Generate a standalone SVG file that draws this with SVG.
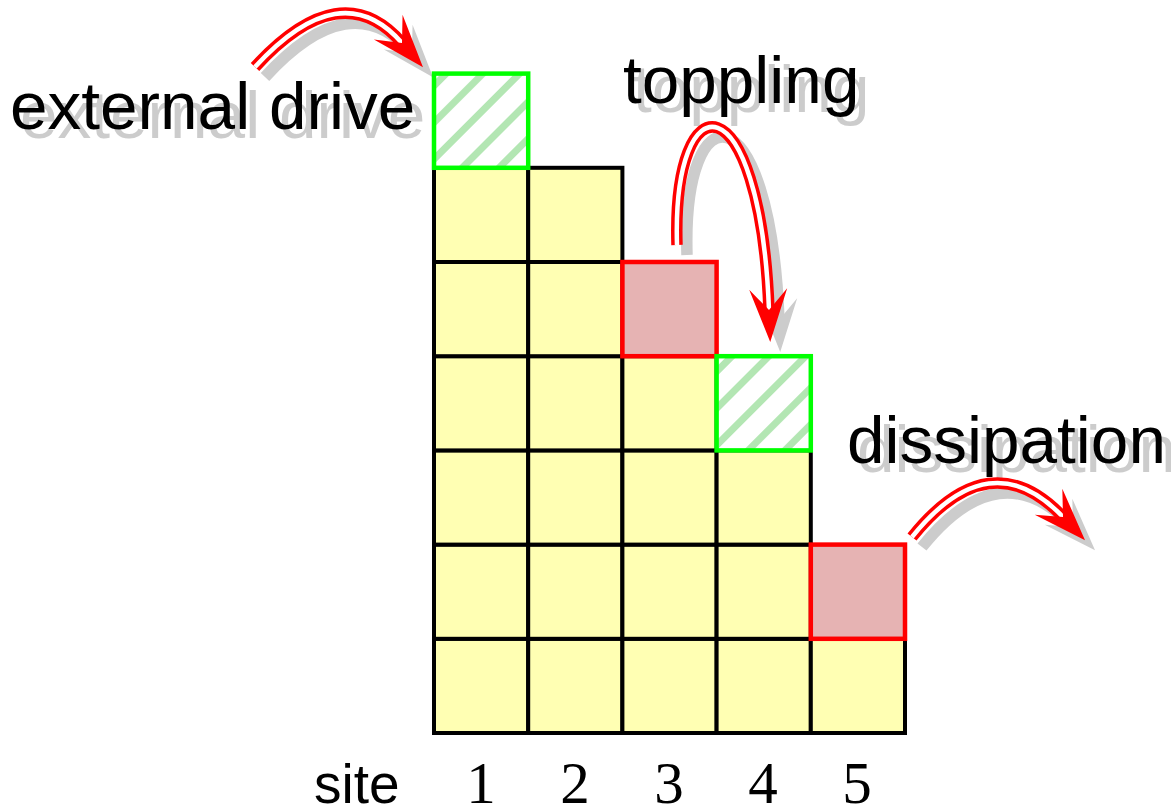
<svg xmlns="http://www.w3.org/2000/svg" width="1171" height="809" viewBox="0 0 1171 809">
<defs>
<style>
.cell{fill:#ffffb3;stroke:#000;stroke-width:4}
.top{fill:#e6b3b3;stroke:#ff0000;stroke-width:4.5}
.drv{stroke:#00ff00;stroke-width:4.5}
.lbl{font-family:"Liberation Sans",Arial,sans-serif;font-size:67.5px}
.site{font-family:"Liberation Sans",Arial,sans-serif;font-size:55px}
.shd{fill:#cccccc}
.ink{fill:#000}
.num{font-family:"Liberation Serif","Times New Roman",serif;font-size:59px;text-anchor:middle;fill:#000}
.outer{fill:none;stroke:#ff0000;stroke-width:11.5}
.inner{fill:none;stroke:#ffffff;stroke-width:4.5}
.sh{fill:none;stroke:#cccccc;stroke-width:11.5}
.hd{fill:#ff0000}
.hds{fill:#cccccc}
</style>
<pattern id="hA" patternUnits="userSpaceOnUse" width="26" height="26" patternTransform="rotate(45)"><rect width="26" height="26" fill="#fff"/><rect width="7" height="26" fill="#b3e6b3"/></pattern>
<pattern id="hB" patternUnits="userSpaceOnUse" width="26" height="26" patternTransform="translate(17,0) rotate(45)"><rect width="26" height="26" fill="#fff"/><rect width="7" height="26" fill="#b3e6b3"/></pattern>
<path id="head" d="M32,0 L-21,-19 L0,0 L-21,19 Z"/>
</defs>
<rect width="1171" height="809" fill="#fff"/>

<g id="labels-shadow">
<text class="lbl shd" x="20" y="138">external drive</text>
<text class="lbl shd" x="633" y="112">toppling</text>
<text class="lbl shd" x="857" y="472">dissipation</text>
</g>

<g id="grid">
<g id="c1r0"><rect class="cell" x="434" y="638.8" width="94.2" height="94.2"/></g>
<g id="c1r1"><rect class="cell" x="434" y="544.6" width="94.2" height="94.2"/></g>
<g id="c1r2"><rect class="cell" x="434" y="450.4" width="94.2" height="94.2"/></g>
<g id="c1r3"><rect class="cell" x="434" y="356.2" width="94.2" height="94.2"/></g>
<g id="c1r4"><rect class="cell" x="434" y="262" width="94.2" height="94.2"/></g>
<g id="c1r5"><rect class="cell" x="434" y="167.8" width="94.2" height="94.2"/></g>
<g id="c2r0"><rect class="cell" x="528.2" y="638.8" width="94.2" height="94.2"/></g>
<g id="c2r1"><rect class="cell" x="528.2" y="544.6" width="94.2" height="94.2"/></g>
<g id="c2r2"><rect class="cell" x="528.2" y="450.4" width="94.2" height="94.2"/></g>
<g id="c2r3"><rect class="cell" x="528.2" y="356.2" width="94.2" height="94.2"/></g>
<g id="c2r4"><rect class="cell" x="528.2" y="262" width="94.2" height="94.2"/></g>
<g id="c2r5"><rect class="cell" x="528.2" y="167.8" width="94.2" height="94.2"/></g>
<g id="c3r0"><rect class="cell" x="622.4" y="638.8" width="94.2" height="94.2"/></g>
<g id="c3r1"><rect class="cell" x="622.4" y="544.6" width="94.2" height="94.2"/></g>
<g id="c3r2"><rect class="cell" x="622.4" y="450.4" width="94.2" height="94.2"/></g>
<g id="c3r3"><rect class="cell" x="622.4" y="356.2" width="94.2" height="94.2"/></g>
<g id="c4r0"><rect class="cell" x="716.6" y="638.8" width="94.2" height="94.2"/></g>
<g id="c4r1"><rect class="cell" x="716.6" y="544.6" width="94.2" height="94.2"/></g>
<g id="c4r2"><rect class="cell" x="716.6" y="450.4" width="94.2" height="94.2"/></g>
<g id="c5r0"><rect class="cell" x="810.8" y="638.8" width="94.2" height="94.2"/></g>
</g>

<g id="connectors">
<g id="arrow-shadows" transform="translate(10,10)">
<path class="sh" d="M255,67 Q341,-27 402,43"/>
<use href="#head" class="hds" transform="translate(402,43) rotate(49)"/>
<path class="sh" d="M677,245 C672,78 760,78 769,310"/>
<use href="#head" class="hds" transform="translate(769,310) rotate(87.8)"/>
<path class="sh" d="M912,537 Q990,440 1063,517"/>
<use href="#head" class="hds" transform="translate(1063,517) rotate(46.5)"/>
</g>
</g>

<g id="special">
<g id="drive1"><rect class="drv" fill="url(#hA)" x="434" y="73.6" width="94.2" height="94.2"/></g>
<g id="topple3"><rect class="top" x="622.4" y="262" width="94.2" height="94.2"/></g>
<g id="drive4"><rect class="drv" fill="url(#hB)" x="716.6" y="356.2" width="94.2" height="94.2"/></g>
<g id="topple5"><rect class="top" x="810.8" y="544.6" width="94.2" height="94.2"/></g>
</g>

<g id="arrows">
<g id="arrow-drive">
<path class="outer" d="M255,67 Q341,-27 402,43"/>
<path class="inner" d="M255,67 Q341,-27 402,43"/>
<use href="#head" class="hd" transform="translate(402,43) rotate(49)"/>
</g>
<g id="arrow-topple">
<path class="outer" d="M677,245 C672,78 760,78 769,310"/>
<path class="inner" d="M677,245 C672,78 760,78 769,310"/>
<use href="#head" class="hd" transform="translate(769,310) rotate(87.8)"/>
</g>
<g id="arrow-dissipate">
<path class="outer" d="M912,537 Q990,440 1063,517"/>
<path class="inner" d="M912,537 Q990,440 1063,517"/>
<use href="#head" class="hd" transform="translate(1063,517) rotate(46.5)"/>
</g>
</g>

<g id="labels">
<text class="lbl ink" x="10" y="129">external drive</text>
<text class="lbl ink" x="623" y="103">toppling</text>
<text class="lbl ink" x="847" y="463">dissipation</text>
<text class="site ink" x="314" y="803">site</text>
<text class="num" x="481" y="803">1</text>
<text class="num" x="575" y="803">2</text>
<text class="num" x="669" y="803">3</text>
<text class="num" x="763" y="803">4</text>
<text class="num" x="857" y="803">5</text>
</g>
</svg>
